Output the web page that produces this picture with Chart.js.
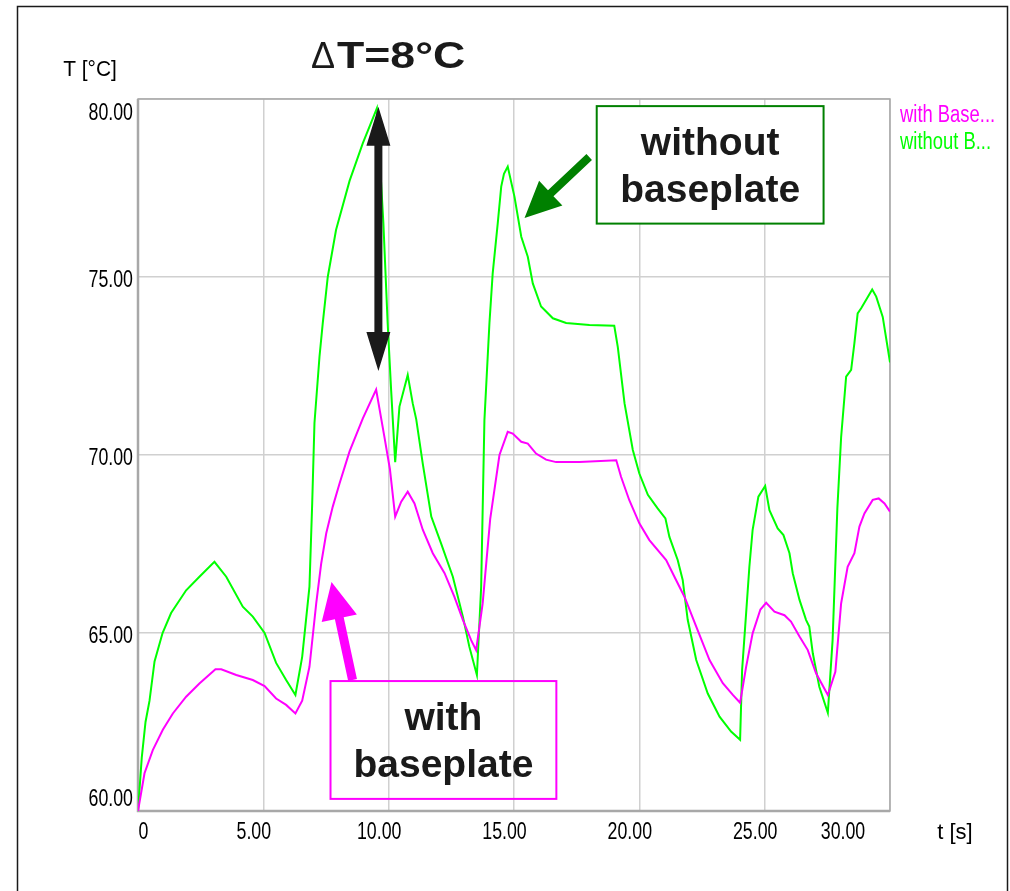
<!DOCTYPE html>
<html>
<head>
<meta charset="utf-8">
<script src="https://cdn.jsdelivr.net/npm/chart.js@4.4.0/dist/chart.umd.min.js"></script>
<style>
  html, body { margin: 0; padding: 0; background: #fff; }
  canvas { display: block; }
</style>
</head>
<body>
<canvas id="myChart" width="1010" height="891"></canvas>
<script>
// series values (t in s, T in °C)
const seriesNames = ['with Baseplate', 'without Baseplate'];

const tWith = [0, 0.26, 0.59, 0.99, 1.39, 1.92, 2.45, 3.09, 3.32, 3.92, 4.58, 5.05, 5.51, 5.91, 6.28,
  6.55, 6.84, 7.11, 7.31, 7.51, 7.77, 8.04, 8.44, 8.97, 9.5, 9.83, 10.05, 10.26, 10.5, 10.76, 11.03,
  11.36, 11.76, 12.23, 12.62, 12.96, 13.29, 13.49, 13.75, 14.05, 14.42, 14.75, 14.95, 15.29, 15.55,
  15.88, 16.28, 16.68, 17.61, 19.08, 19.27, 19.6, 20.0, 20.4, 21.07, 21.4, 21.8, 22.27, 22.8, 23.33,
  23.73, 24.02, 24.26, 24.52, 24.83, 25.06, 25.39, 25.79, 26.05, 26.39, 26.72, 27.05, 27.52, 27.82,
  28.05, 28.31, 28.58, 28.78, 28.98, 29.31, 29.55, 29.78, 30.0];
const tempWith = [60.0, 61.06, 61.71, 62.28, 62.74, 63.21, 63.58, 63.98, 63.98, 63.82, 63.68, 63.51, 63.16, 62.98, 62.74,
  63.1, 64.05, 65.83, 66.96, 67.8, 68.55, 69.2, 70.1, 71.03, 71.84, 70.51, 69.6, 68.27, 68.69, 68.97, 68.64,
  67.9, 67.24, 66.68, 66.02, 65.37, 64.8, 64.52, 65.83, 68.2, 70.0, 70.65, 70.6, 70.37, 70.32,
  70.04, 69.87, 69.8, 69.8, 69.85, 69.39, 68.73, 68.08, 67.61, 67.05, 66.58, 66.02, 65.18, 64.24, 63.59,
  63.26, 63.04, 64.05, 64.99, 65.66, 65.85, 65.6, 65.5, 65.32, 64.9, 64.52, 63.87, 63.26, 63.91,
  65.83, 66.86, 67.24, 67.99, 68.36, 68.74, 68.78, 68.64, 68.41];

const tWithout = [0, 0.15, 0.3, 0.46, 0.66, 0.98, 1.32, 1.92, 2.45, 3.05, 3.52, 4.18, 4.58, 5.05, 5.51,
  5.91, 6.28, 6.55, 6.84, 6.95, 7.04, 7.24, 7.37, 7.57, 7.9, 8.44, 8.97, 9.53, 9.79, 9.96, 10.1,
  10.26, 10.43, 10.76, 10.96, 11.1, 11.36, 11.7, 12.09, 12.56, 12.96, 13.22, 13.52, 13.69, 13.82,
  14.02, 14.15, 14.35, 14.49, 14.6, 14.75, 15.02, 15.29, 15.55, 15.75, 16.08, 16.55, 17.08, 18.01,
  19.0, 19.14, 19.41, 19.74, 20.0, 20.34, 20.73, 21.04, 21.2, 21.53, 21.73, 21.93, 22.27, 22.73,
  23.2, 23.66, 24.02, 24.1, 24.26, 24.39, 24.52, 24.75, 25.02, 25.19, 25.52, 25.75, 25.99, 26.12,
  26.39, 26.65, 26.78, 26.92, 27.18, 27.52, 27.71, 27.9, 28.05, 28.25, 28.45, 28.58, 28.71, 28.85,
  29.29, 29.45, 29.71, 30.0];
const tempWithout = [60.0, 61.5, 62.5, 63.1, 64.2, 65.0, 65.56, 66.2, 66.58, 67.0, 66.58, 65.74, 65.46, 65.0, 64.16,
  63.68, 63.26, 64.33, 66.3, 68.65, 70.9, 72.76, 73.7, 75.0, 76.32, 77.7, 78.76, 79.74, 76.5, 73.7, 71.8,
  69.8, 71.36, 72.25, 71.45, 71.0, 69.76, 68.27, 67.52, 66.58, 65.46, 64.61, 63.82, 66.3, 70.98,
  73.7, 75.1, 76.5, 77.54, 77.9, 78.1, 77.25, 76.13, 75.57, 74.82, 74.17, 73.84, 73.71, 73.65,
  73.63, 73.04, 71.45, 70.14, 69.48, 68.88, 68.5, 68.22, 67.7, 67.05, 66.49, 65.37, 64.24, 63.3,
  62.65, 62.23, 62.0, 63.96, 65.55, 66.86, 67.9, 68.83, 69.13, 68.45, 67.94, 67.75, 67.24, 66.68,
  65.93, 65.37, 65.18, 64.43, 63.49, 62.76, 64.8, 68.5, 70.5, 72.2, 72.39, 73.14, 73.98, 74.12,
  74.65, 74.45, 73.88, 72.6];

// tick labels
const xTicks = [0, 5, 10, 15, 20, 25, 30];
const xTickLabels = ['0', '5.00', '10.00', '15.00', '20.00', '25.00', '30.00'];
const yTicks = [60, 65, 70, 75, 80];
const yTickLabels = ['60.00', '65.00', '70.00', '75.00', '80.00'];

// annotations, placed in data units
const noteBoxes = [
  { lines: ['without', 'baseplate'], x0: 18.3, x1: 27.35, y0: 79.8, y1: 76.5, color: '#008000', fill: '#ffffff' },
  { lines: ['with', 'baseplate'], x0: 7.68, x1: 16.69, y0: 63.65, y1: 60.34, color: '#ff00ff', fill: null }
];
const noteArrows = [
  { from: [9.59, 79.78], to: [9.59, 72.36], both: true, color: '#1a1a1a', shaft: 8, headW: 24, headL: 39 },
  { from: [18.0, 78.37], to: [15.42, 76.66], both: false, color: '#008000', shaft: 8, headW: 34, headL: 36 },
  { from: [8.56, 63.68], to: [7.72, 66.43], both: false, color: '#ff00ff', shaft: 9, headW: 36, headL: 37 }
];

const toPoints = (xs, ys) => xs.map((x, i) => ({ x: x, y: ys[i] }));

function squeezeText(ctx, text, x, y, sx, align) {
  ctx.save();
  ctx.translate(x, y);
  ctx.scale(sx, 1);
  ctx.textAlign = align;
  ctx.textBaseline = 'alphabetic';
  ctx.fillText(text, 0, 0);
  ctx.restore();
}

function drawArrow(ctx, x1, y1, x2, y2, shaft, headW, headL, both) {
  const dx = x2 - x1, dy = y2 - y1, len = Math.hypot(dx, dy);
  const ux = dx / len, uy = dy / len, nx = -uy, ny = ux;
  const s = shaft / 2, h = headW / 2;
  const p = (a, b) => [x1 + ux * a + nx * b, y1 + uy * a + ny * b];
  let pts = [];
  if (both) pts.push(p(0, 0), p(headL, h), p(headL, s));
  else pts.push(p(0, s));
  pts.push(p(len - headL, s), p(len - headL, h), p(len, 0), p(len - headL, -h), p(len - headL, -s));
  if (both) pts.push(p(headL, -s), p(headL, -h));
  else pts.push(p(0, -s));
  ctx.beginPath();
  ctx.moveTo(pts[0][0], pts[0][1]);
  pts.slice(1).forEach(q => ctx.lineTo(q[0], q[1]));
  ctx.closePath();
  ctx.fill();
}

const decorPlugin = {
  id: 'decor',
  beforeDraw(chart) {
    const ctx = chart.ctx;
    ctx.save();
    ctx.fillStyle = '#ffffff';
    ctx.fillRect(0, 0, chart.width, chart.height);
    ctx.strokeStyle = '#1a1a1a';
    ctx.lineWidth = 1.5;
    ctx.strokeRect(17.5, 6.5, 990, 900);
    ctx.restore();
  },
  beforeDatasetsDraw(chart) {
    const ctx = chart.ctx, a = chart.chartArea;
    ctx.save();
    ctx.strokeStyle = '#a8a8a8';
    ctx.lineWidth = 1.5;
    ctx.strokeRect(a.left, a.top, a.right - a.left, a.bottom - a.top);
    ctx.lineWidth = 2.5;
    ctx.beginPath();
    ctx.moveTo(a.left, a.top);
    ctx.lineTo(a.left, a.bottom);
    ctx.lineTo(a.right, a.bottom);
    ctx.stroke();
    ctx.restore();
  },
  afterDatasetsDraw(chart) {
    const ctx = chart.ctx, a = chart.chartArea;
    const xs = chart.scales.x, ys = chart.scales.y;
    ctx.save();

    // tick labels
    ctx.fillStyle = '#000000';
    ctx.font = '24px "Liberation Sans", Arial, sans-serif';
    xTicks.forEach((v, i) => {
      let px = xs.getPixelForValue(v) - 9.5;
      px = Math.max(a.left + 5.5, Math.min(a.right - 47, px));
      squeezeText(ctx, xTickLabels[i], px, 839, 0.74, 'center');
    });
    yTicks.forEach((v, i) => {
      let py = ys.getPixelForValue(v) + 9.5;
      py = Math.max(a.top + 21, Math.min(a.bottom - 5, py));
      squeezeText(ctx, yTickLabels[i], a.left - 5, py, 0.74, 'right');
    });

    // axis titles
    ctx.font = '22px "Liberation Sans", Arial, sans-serif';
    squeezeText(ctx, 'T [°C]', 90, 76, 0.95, 'center');
    squeezeText(ctx, 't [s]', 955, 839, 1.0, 'center');

    // legend, names cut short as in the picture
    ctx.font = '23px "Liberation Sans", Arial, sans-serif';
    chart.data.datasets.forEach((ds, i) => {
      const short = ds.label.slice(0, 9).trimEnd() + '...';
      ctx.fillStyle = ds.borderColor;
      squeezeText(ctx, short, 900, 122 + i * 27, 0.8, 'left');
    });

    // title
    ctx.fillStyle = '#1a1a1a';
    ctx.font = '36px "Liberation Sans", Arial, sans-serif';
    squeezeText(ctx, 'Δ', 311, 68, 1.0, 'left');
    ctx.font = 'bold 36px "Liberation Sans", Arial, sans-serif';
    squeezeText(ctx, 'T=8°C', 337, 68, 1.24, 'left');

    // annotation arrows
    noteArrows.forEach(n => {
      ctx.fillStyle = n.color;
      drawArrow(ctx, xs.getPixelForValue(n.from[0]), ys.getPixelForValue(n.from[1]),
        xs.getPixelForValue(n.to[0]), ys.getPixelForValue(n.to[1]), n.shaft, n.headW, n.headL, n.both);
    });

    // annotation boxes
    noteBoxes.forEach(b => {
      const x0 = xs.getPixelForValue(b.x0), x1 = xs.getPixelForValue(b.x1);
      const y0 = ys.getPixelForValue(b.y0), y1 = ys.getPixelForValue(b.y1);
      if (b.fill) {
        ctx.fillStyle = b.fill;
        ctx.fillRect(x0, y0, x1 - x0, y1 - y0);
      }
      ctx.strokeStyle = b.color;
      ctx.lineWidth = 2;
      ctx.strokeRect(x0, y0, x1 - x0, y1 - y0);
      ctx.fillStyle = '#1a1a1a';
      ctx.font = 'bold 39px "Liberation Sans", Arial, sans-serif';
      b.lines.forEach((t, k) => {
        squeezeText(ctx, t, (x0 + x1) / 2, y0 + 49 + k * 47, 1.0, 'center');
      });
    });

    ctx.restore();
  }
};

new Chart('myChart', {
  type: 'line',
  data: {
    datasets: [{
      label: seriesNames[0],
      data: toPoints(tWith, tempWith),
      borderColor: '#ff00ff',
      borderWidth: 2,
      pointRadius: 0,
      tension: 0,
      fill: false
    }, {
      label: seriesNames[1],
      data: toPoints(tWithout, tempWithout),
      borderColor: '#00ff00',
      borderWidth: 2,
      pointRadius: 0,
      tension: 0,
      fill: false
    }]
  },
  options: {
    responsive: false,
    animation: false,
    devicePixelRatio: 1,
    layout: { padding: { left: 138, right: 120, top: 99, bottom: 80 } },
    plugins: {
      legend: { display: false },
      tooltip: { enabled: false },
      title: { display: false }
    },
    scales: {
      x: {
        type: 'linear',
        min: 0,
        max: 30,
        ticks: { display: false, stepSize: 5 },
        grid: { color: '#d0d0d0', lineWidth: 1.5, drawTicks: false },
        border: { display: false }
      },
      y: {
        type: 'linear',
        min: 60,
        max: 80,
        ticks: { display: false, stepSize: 5 },
        grid: { color: '#d0d0d0', lineWidth: 1.5, drawTicks: false },
        border: { display: false }
      }
    }
  },
  plugins: [decorPlugin]
});
</script>
</body>
</html>
